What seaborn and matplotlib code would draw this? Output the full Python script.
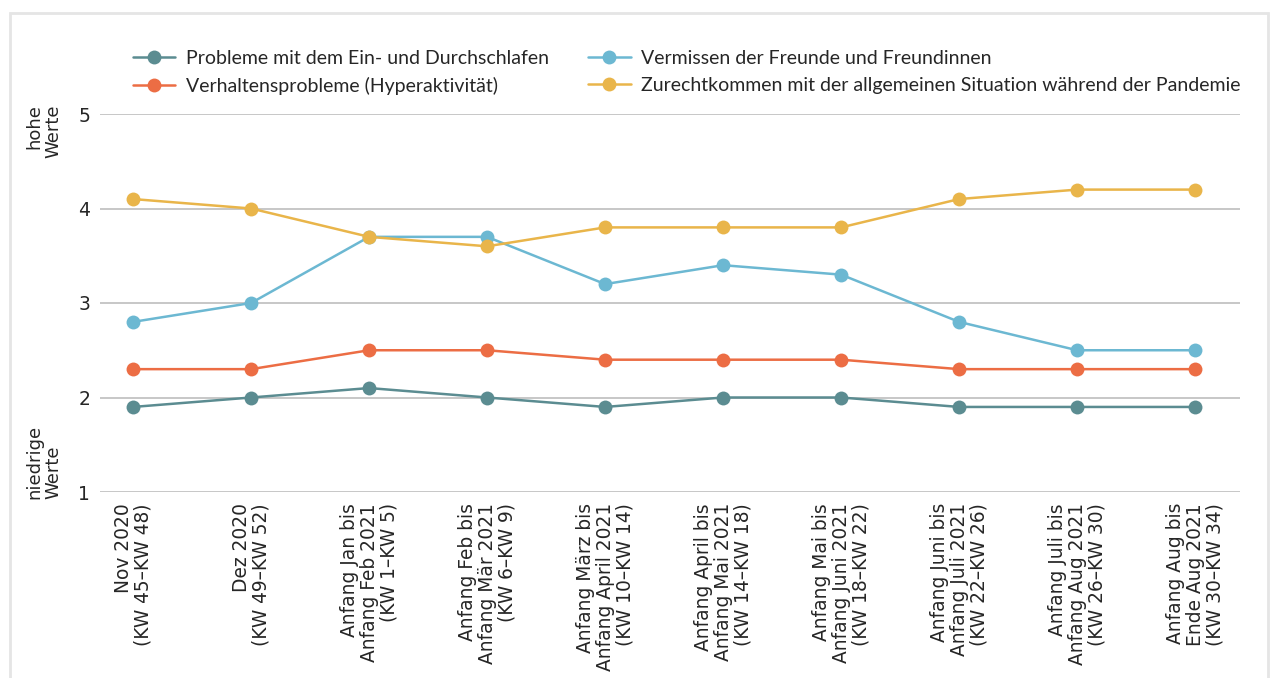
import pandas as pd
import matplotlib
matplotlib.use("Agg")
import matplotlib.pyplot as plt
from matplotlib.patches import Rectangle
import seaborn as sns

# ── data ─────────────────────────────────────────────────────────────────────
periods = [
    "Nov 2020\n(KW 45–KW 48)",
    "Dez 2020\n(KW 49–KW 52)",
    "Anfang Jan bis\nAnfang Feb 2021\n(KW 1–KW 5)",
    "Anfang Feb bis\nAnfang Mär 2021\n(KW 6–KW 9)",
    "Anfang März bis\nAnfang April 2021\n(KW 10–KW 14)",
    "Anfang April bis\nAnfang Mai 2021\n(KW 14–KW 18)",
    "Anfang Mai bis\nAnfang Juni 2021\n(KW 18–KW 22)",
    "Anfang Juni bis\nAnfang Juli 2021\n(KW 22–KW 26)",
    "Anfang Juli bis\nAnfang Aug 2021\n(KW 26–KW 30)",
    "Anfang Aug bis\nEnde Aug 2021\n(KW 30–KW 34)",
]
schlaf = [1.9, 2.0, 2.1, 2.0, 1.9, 2.0, 2.0, 1.9, 1.9, 1.9]
verhalten = [2.3, 2.3, 2.5, 2.5, 2.4, 2.4, 2.4, 2.3, 2.3, 2.3]
vermissen = [2.8, 3.0, 3.7, 3.7, 3.2, 3.4, 3.3, 2.8, 2.5, 2.5]
zurecht = [4.1, 4.0, 3.7, 3.6, 3.8, 3.8, 3.8, 4.1, 4.2, 4.2]

series_names = [
    "Probleme mit dem Ein- und Durchschlafen",
    "Verhaltensprobleme (Hyperaktivität)",
    "Vermissen der Freunde und Freundinnen",
    "Zurechtkommen mit der allgemeinen Situation während der Pandemie",
]
colors = ["#5b8c91", "#ec6d44", "#6cb8d2", "#e9b54a"]

rows = []
for name, vals in zip(series_names, [schlaf, verhalten, vermissen, zurecht]):
    for i, v in enumerate(vals):
        rows.append({"x": i, "wert": v, "serie": name})
df = pd.DataFrame(rows)

# ── plot ─────────────────────────────────────────────────────────────────────
sns.set_style("white")
plt.rcParams["font.family"] = ["DejaVu Sans"]

fig = plt.figure(figsize=(12.7, 6.78), dpi=100)
ax = fig.add_axes([100 / 1270, 1 - 492 / 678, 1140 / 1270, 378 / 678])

sns.lineplot(data=df, x="x", y="wert", hue="serie", hue_order=series_names,
             palette=dict(zip(series_names, colors)), marker="o",
             markersize=10, markeredgewidth=0, linewidth=1.8, ax=ax)

ax.set_ylim(1, 5)
ax.set_xlim(-0.28, 9.38)
ax.set_yticks([1, 2, 3, 4, 5])
ax.set_yticklabels(["1", "2", "3", "4", "5"], fontsize=13.5)
ax.set_xticks(range(len(periods)))
ax.set_xticklabels(periods, rotation=90, fontsize=13.4, ha="center",
                   va="top", multialignment="right", linespacing=1.06)
ax.tick_params(axis="both", length=0)
ax.tick_params(axis="x", pad=8)
ax.tick_params(axis="y", pad=7)
ax.yaxis.grid(True, color="#bdbdbd", linewidth=1.2)
ax.set_axisbelow(True)
for s in ax.spines.values():
    s.set_visible(False)
ax.set_xlabel("")
ax.set_ylabel("")

ax.text(-0.049, 0.955, "hohe\nWerte", transform=ax.transAxes, rotation=90,
        ha="center", va="center", fontsize=13, multialignment="right",
        linespacing=1.1)
ax.text(-0.049, 0.08, "niedrige\nWerte", transform=ax.transAxes, rotation=90,
        ha="center", va="center", fontsize=13, multialignment="left",
        linespacing=1.1)

leg = ax.legend(loc="upper left", bbox_to_anchor=(115 / 1270, 1 - 32 / 678),
                bbox_transform=fig.transFigure, ncol=2, frameon=False,
                prop={"family": "Lato", "size": 14}, handlelength=2.2,
                columnspacing=2.0, labelspacing=0.55, handletextpad=0.55)

fig.patches.append(Rectangle((10 / 1270, -0.1), 1258 / 1270, 1.1 - 13 / 678,
                             transform=fig.transFigure, fill=False,
                             edgecolor="#e5e5e5", linewidth=2))

fig.savefig("out.png", dpi=100)
